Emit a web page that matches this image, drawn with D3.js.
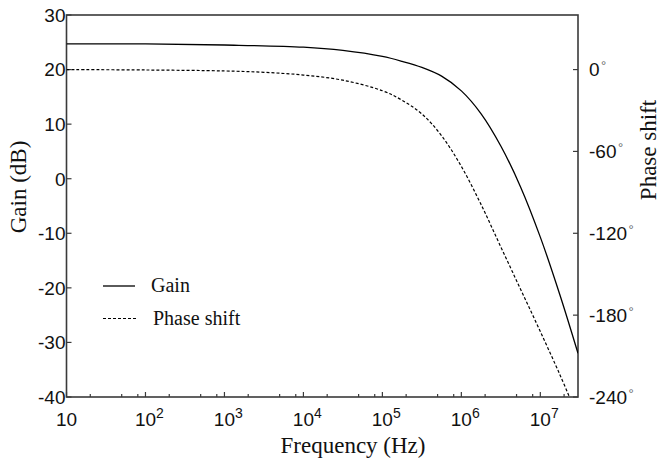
<!DOCTYPE html>
<html>
<head>
<meta charset="utf-8">
<script src="https://cdn.jsdelivr.net/npm/d3@7"></script>
<style>
  body { margin: 0; background: #fff; }
  svg { display: block; }
</style>
</head>
<body>
<svg id="chart" width="662" height="460"></svg>
<script>
// ---- data ----
const gainFreq  = [1e1, 1e2, 1e3, 1e4, 3.16e4, 1e5, 1.78e5, 3.16e5, 5.62e5, 1e6, 1.78e6, 3.16e6, 5.62e6, 1e7, 1.78e7, 3e7];
const gainDb    = [24.7, 24.7, 24.5, 24.1, 23.5, 22.4, 21.5, 20.4, 18.8, 16.1, 11.9, 6.0, -1.5, -10.7, -21.4, -32];
const phaseFreq = [1e1, 1e2, 1e3, 3.16e3, 1e4, 3.16e4, 1e5, 1.78e5, 3.16e5, 5.62e5, 1e6, 1.78e6, 3.16e6, 5.62e6, 1e7, 1.78e7, 2.5e7];
const phaseDeg  = [0, -0.3, -1.0, -2.0, -4, -7.8, -15.5, -22.5, -32.5, -48.5, -71, -99, -130, -161, -192, -224, -244];
const xMajorTicks = [1e1, 1e2, 1e3, 1e4, 1e5, 1e6, 1e7];
const xMajorExp   = [1, 2, 3, 4, 5, 6, 7];
const xMinorMult  = [2, 5, 8];
const gainTicks   = [30, 20, 10, 0, -10, -20, -30, -40];
const phaseTicks  = [0, -60, -120, -180, -240];
const legendLabels = ["Gain", "Phase shift"];

// ---- layout ----
const L = 66.5, R = 578, T = 15, B = 397;
const svg = d3.select("#chart");
const x = d3.scaleLog().domain([10, 3e7]).range([L, R]);
const yG = d3.scaleLinear().domain([-40, 30]).range([B, T]);
const yP = d3.scaleLinear().domain([-240, 40]).range([B, T]);

const sans = "'Liberation Sans', Arial, Helvetica, sans-serif";
const serif = "'Liberation Serif', 'Times New Roman', Times, serif";

svg.append("defs").append("clipPath").attr("id", "clip")
  .append("rect").attr("x", L).attr("y", T).attr("width", R - L).attr("height", B - T);

// minor ticks list
const minorTicks = [];
xMajorTicks.forEach(d => xMinorMult.forEach(m => { const v = d * m; if (v < 3e7) minorTicks.push(v); }));

const axisColor = "#3a3a3a";
// bottom axis ticks (inward)
svg.append("g").selectAll("line.maj").data(xMajorTicks).join("line")
  .attr("x1", d => x(d)).attr("x2", d => x(d)).attr("y1", B).attr("y2", B - 5)
  .attr("stroke", axisColor).attr("stroke-width", 1.2);
svg.append("g").selectAll("line.min").data(minorTicks).join("line")
  .attr("x1", d => x(d)).attr("x2", d => x(d)).attr("y1", B).attr("y2", B - 3)
  .attr("stroke", axisColor).attr("stroke-width", 1.2);
// left ticks
svg.append("g").selectAll("line").data(gainTicks).join("line")
  .attr("x1", L).attr("x2", L + 5).attr("y1", d => yG(d)).attr("y2", d => yG(d))
  .attr("stroke", axisColor).attr("stroke-width", 1.2);
// right ticks
svg.append("g").selectAll("line").data(phaseTicks).join("line")
  .attr("x1", R).attr("x2", R - 5).attr("y1", d => yP(d)).attr("y2", d => yP(d))
  .attr("stroke", axisColor).attr("stroke-width", 1.2);

// frame
svg.append("rect").attr("x", L).attr("y", T).attr("width", R - L).attr("height", B - T)
  .attr("fill", "none").attr("stroke", axisColor).attr("stroke-width", 1.6);

// left tick labels
svg.append("g").selectAll("text").data(gainTicks).join("text")
  .attr("x", L - 1).attr("y", d => yG(d)).attr("dy", "0.36em")
  .attr("text-anchor", "end").attr("font-family", sans).attr("font-size", 19)
  .attr("fill", "#111").text(d => d);

// right tick labels with degree sign
const rt = svg.append("g").selectAll("text").data(phaseTicks).join("text")
  .attr("x", R + 11).attr("y", d => yP(d)).attr("dy", "0.36em")
  .attr("font-family", sans).attr("font-size", 19).attr("fill", "#111");
rt.append("tspan").text(d => d);
rt.append("tspan").attr("dx", 1.5).attr("dy", -6).attr("font-size", 13).attr("fill", "#666").text("°");

// bottom tick labels
const bl = svg.append("g");
xMajorTicks.forEach((d, i) => {
  const t = bl.append("text").attr("x", x(d)).attr("y", 426)
    .attr("text-anchor", "middle").attr("font-family", sans).attr("font-size", 19)
    .attr("fill", "#111").text("10");
  if (xMajorExp[i] !== 1) {
    const w = t.node().getComputedTextLength();
    bl.append("text").attr("x", x(d) + w / 2).attr("y", 418)
      .attr("font-family", sans).attr("font-size", 14).attr("fill", "#111")
      .text(xMajorExp[i]);
  }
});

// axis titles
svg.append("text").attr("x", 353).attr("y", 453).attr("text-anchor", "middle")
  .attr("font-family", serif).attr("font-size", 23).attr("fill", "#111").text("Frequency (Hz)");
svg.append("text").attr("transform", "translate(26,187) rotate(-90)").attr("text-anchor", "middle")
  .attr("font-family", serif).attr("font-size", 23).attr("fill", "#111").text("Gain (dB)");
svg.append("text").attr("transform", "translate(656,150) rotate(-90)").attr("text-anchor", "middle")
  .attr("font-family", serif).attr("font-size", 23).attr("fill", "#111").text("Phase shift");

// curves
const plot = svg.append("g").attr("clip-path", "url(#clip)");
const gainData = gainFreq.map((f, i) => [f, gainDb[i]]);
const phaseData = phaseFreq.map((f, i) => [f, phaseDeg[i]]);
const curve = d3.curveCatmullRom.alpha(0.5);
plot.append("path").datum(gainData)
  .attr("d", d3.line().x(d => x(d[0])).y(d => yG(d[1])).curve(curve))
  .attr("fill", "none").attr("stroke", "#000").attr("stroke-width", 1.3);
plot.append("path").datum(phaseData)
  .attr("d", d3.line().x(d => x(d[0])).y(d => yP(d[1])).curve(curve))
  .attr("fill", "none").attr("stroke", "#000").attr("stroke-width", 1.2)
  .attr("stroke-dasharray", "3,2");

// legend
const lg = svg.append("g");
lg.append("line").attr("x1", 103).attr("x2", 135).attr("y1", 286).attr("y2", 286)
  .attr("stroke", "#000").attr("stroke-width", 1.3);
lg.append("line").attr("x1", 103).attr("x2", 137).attr("y1", 318.5).attr("y2", 318.5)
  .attr("stroke", "#000").attr("stroke-width", 1.2).attr("stroke-dasharray", "3,2");
lg.append("text").attr("x", 151).attr("y", 292).attr("font-family", serif).attr("font-size", 20)
  .attr("fill", "#111").text(legendLabels[0]);
lg.append("text").attr("x", 153).attr("y", 324.5).attr("font-family", serif).attr("font-size", 20)
  .attr("fill", "#111").text(legendLabels[1]);
</script>
</body>
</html>
